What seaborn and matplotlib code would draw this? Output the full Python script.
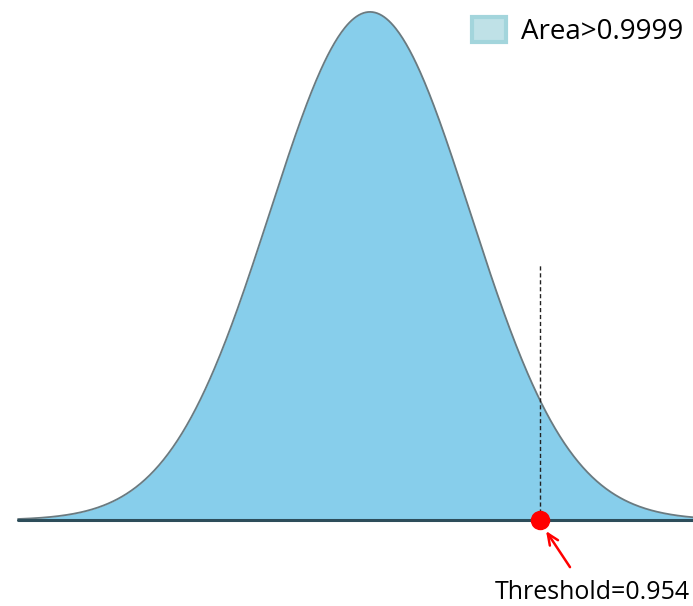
import numpy as np
import pandas as pd
import seaborn as sns
import matplotlib.pyplot as plt
from matplotlib.patches import Patch

# distribution shown in the chart
mean = 0.0
sd = 1.0
x_start, x_end = -3.52, 3.4
threshold = 1.70
dash_top = 0.2
threshold_label = "Threshold=0.954"
legend_label = "Area>0.9999"

sns.set_style("white")
plt.rcParams['font.family'] = ['Open Sans', 'DejaVu Sans']
plt.rcParams['text.color'] = 'black'

xs = np.linspace(x_start, x_end, 600)
ys = np.exp(-0.5 * ((xs - mean) / sd) ** 2) / (sd * np.sqrt(2 * np.pi))
df = pd.DataFrame({'x': xs, 'density': ys})

fig = plt.figure(figsize=(6.93, 6.06), dpi=100)
ax = fig.add_axes([0, 0, 1, 1])

ax.fill_between(df['x'], 0, df['density'], color='#87ceeb', lw=0)
sns.lineplot(data=df, x='x', y='density', color='#6a7a80', lw=1.3, ax=ax)

# baseline
ax.plot([x_start, x_end], [0, 0], color='#2d4d5a', lw=2.2)

# threshold marker
ax.plot([threshold, threshold], [0, dash_top], color='#222222', lw=1, ls=(0, (3, 2)))
ax.plot([threshold], [0], 'o', color='red', ms=13, zorder=5)
ax.annotate('', xy=(threshold + 0.03, -0.005), xytext=(threshold + 0.3, -0.037),
            arrowprops=dict(arrowstyle='->,head_length=0.8,head_width=0.35',
                            color='red', lw=1.8, shrinkA=0, shrinkB=4))
ax.text(1.25, -0.057, threshold_label, fontsize=18, va='center', ha='left', color='black')

handle = Patch(facecolor='#bfe1e7', edgecolor='#a3d5dc', lw=3)
ax.legend([handle], [legend_label], loc='upper right', bbox_to_anchor=(0.998, 0.985),
          frameon=False, fontsize=20,
          handlelength=1.2, handleheight=1.0, handletextpad=0.55,
          borderaxespad=0.0, borderpad=0.3, labelcolor='black')

ax.set_xlim(-3.70, 3.23)
ax.set_ylim(-0.0675, 0.4083)
ax.axis('off')

plt.savefig('out.png', dpi=100)
plt.close()
